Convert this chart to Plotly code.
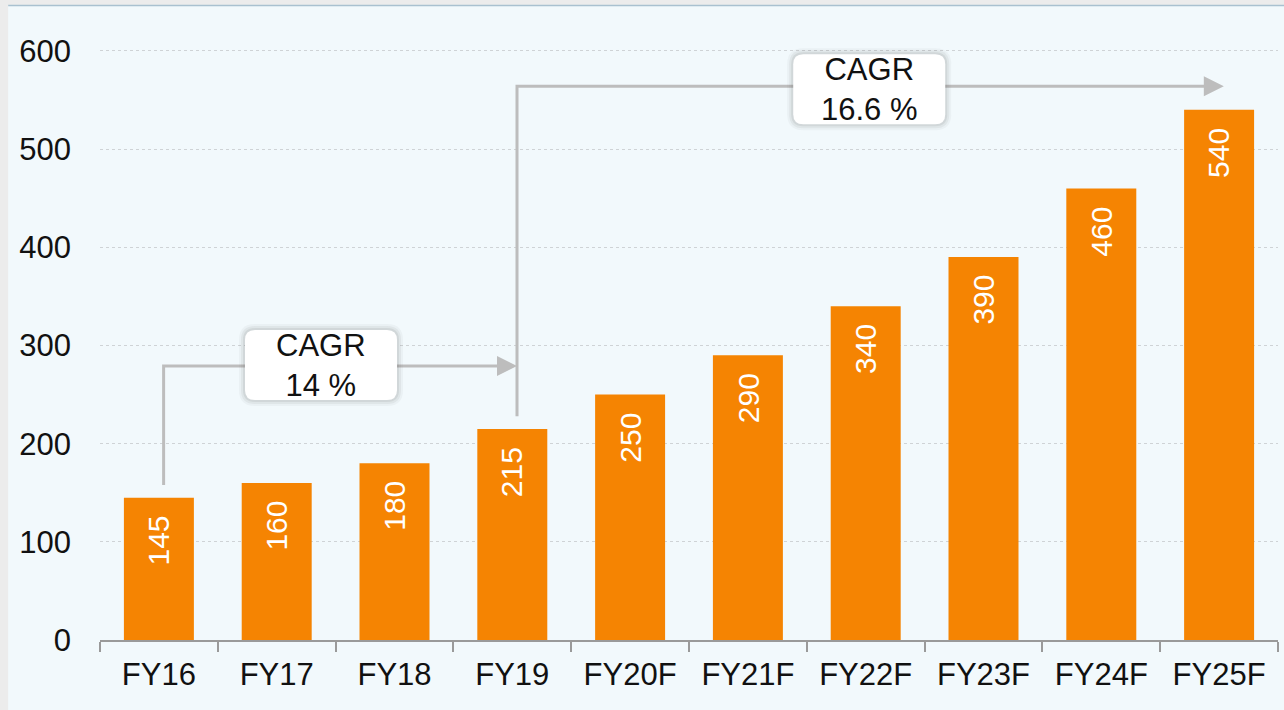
import plotly.graph_objects as go

# Market size by fiscal year (F = forecast)
years = ["FY16", "FY17", "FY18", "FY19", "FY20F", "FY21F", "FY22F", "FY23F", "FY24F", "FY25F"]
values = [145, 160, 180, 215, 250, 290, 340, 390, 460, 540]
y_ticks = [0, 100, 200, 300, 400, 500, 600]

# Growth callouts: label, start category, end category, level of the bracket, label position
cagr_labels = ["CAGR<br>14 %", "CAGR<br>16.6 %"]
cagr_start = ["FY16", "FY19"]
cagr_end = ["FY19", "FY25F"]
cagr_level = [279, 564]
cagr_box_x = [1.376, 6.03]
cagr_box_y = [280, 561]

ORANGE = "#f58402"
ARROW = "#bdbdbd"
BG = "#f2f9fc"
FONT = "Liberation Sans, Arial, sans-serif"

fig = go.Figure(
    go.Bar(
        x=years,
        y=values,
        marker=dict(color=ORANGE, line=dict(width=0)),
        hoverinfo="x+y",
    )
)

shapes = []
annotations = []

# value labels, rotated, sitting just inside the top of each bar
for cat, v in zip(years, values):
    annotations.append(dict(
        x=cat, y=v, xref="x", yref="y", text=str(v), textangle=-90,
        showarrow=False, yanchor="top", xanchor="center", yshift=-16,
        font=dict(family=FONT, size=30, color="white"),
    ))

def idx(cat):
    return years.index(cat)

def rounded_box(d=0):
    # rounded rectangle centred on its anchor, enlarged by d pixels per side
    w, h, r = 76 + d, 35 + d, 10 + d
    return (f"M {-w + r},{-h} L {w - r},{-h} Q {w},{-h} {w},{-h + r} L {w},{h - r} "
            f"Q {w},{h} {w - r},{h} L {-w + r},{h} Q {-w},{h} {-w},{h - r} "
            f"L {-w},{-h + r} Q {-w},{-h} {-w + r},{-h} Z")

for label, s, e, lvl, bx, by in zip(cagr_labels, cagr_start, cagr_end,
                                    cagr_level, cagr_box_x, cagr_box_y):
    x0 = idx(s) + 0.04
    x1 = idx(e) + 0.04
    start_val = values[idx(s)] + 13
    # bracket: up from the start bar, then across to the end bar
    shapes.append(dict(type="path", xref="x", yref="y", layer="above",
                       path=f"M {x0},{start_val} L {x0},{lvl} L {x1 - 0.15},{lvl}",
                       line=dict(color=ARROW, width=3)))
    # arrow head
    shapes.append(dict(type="path", xref="x", yref="y", layer="above",
                       xsizemode="pixel", ysizemode="pixel",
                       xanchor=x1, yanchor=lvl,
                       path="M 0,0 L -20,10 L -20,-10 Z",
                       fillcolor=ARROW, line=dict(width=0)))
    # soft shadow behind the label box
    for d, op in [(6, 0.05), (4, 0.07), (2, 0.10)]:
        shapes.append(dict(type="path", xref="x", yref="y", layer="above",
                           xsizemode="pixel", ysizemode="pixel",
                           xanchor=bx, yanchor=by, path=rounded_box(d),
                           fillcolor=f"rgba(90,90,90,{op})", line=dict(width=0)))
    shapes.append(dict(type="path", xref="x", yref="y", layer="above",
                       xsizemode="pixel", ysizemode="pixel",
                       xanchor=bx, yanchor=by, path=rounded_box(),
                       fillcolor="white", line=dict(width=0)))
    annotations.append(dict(
        x=bx, y=by, xref="x", yref="y", text=label, showarrow=False,
        xanchor="center", yanchor="middle", align="center",
        font=dict(family=FONT, size=31, color="#111111"),
    ))

# faint frame strip along the top and left edges
shapes.append(dict(type="rect", xref="paper", yref="paper", layer="below",
                   x0=-0.2, x1=1.1, y0=1.0267, y1=1.2,
                   fillcolor="#ececec", line=dict(width=0)))
shapes.append(dict(type="line", xref="paper", yref="paper", layer="below",
                   x0=-0.078, x1=1.1, y0=1.0267, y1=1.0267,
                   line=dict(color="#a9c1d0", width=1.5)))
shapes.append(dict(type="rect", xref="paper", yref="paper", layer="below",
                   x0=-0.2, x1=-0.078, y0=-0.2, y1=1.2,
                   fillcolor="#ececec", line=dict(width=0)))

fig.update_layout(
    width=1284,
    height=710,
    margin=dict(l=100, r=6, t=22, b=70),
    paper_bgcolor=BG,
    plot_bgcolor=BG,
    bargap=0.406,
    showlegend=False,
    font=dict(family=FONT, size=31, color="#111111"),
    shapes=shapes,
    annotations=annotations,
    xaxis=dict(
        type="category",
        showline=True, linecolor="#9a9a9a", linewidth=2,
        ticks="outside", ticklen=10, tickwidth=2, tickcolor="#9a9a9a",
        tickson="boundaries",
        showgrid=False,
        tickfont=dict(family=FONT, size=31, color="#111111"),
        ticklabelstandoff=6,
    ),
    yaxis=dict(
        range=[0, 629.5],
        tickvals=y_ticks,
        showgrid=True, gridcolor="#cfd3d6", gridwidth=1, griddash="dot",
        zeroline=False, showline=False, ticks="",
        tickfont=dict(family=FONT, size=31, color="#111111"),
        ticklabelstandoff=28,
    ),
)

fig.write_html("out.html")
